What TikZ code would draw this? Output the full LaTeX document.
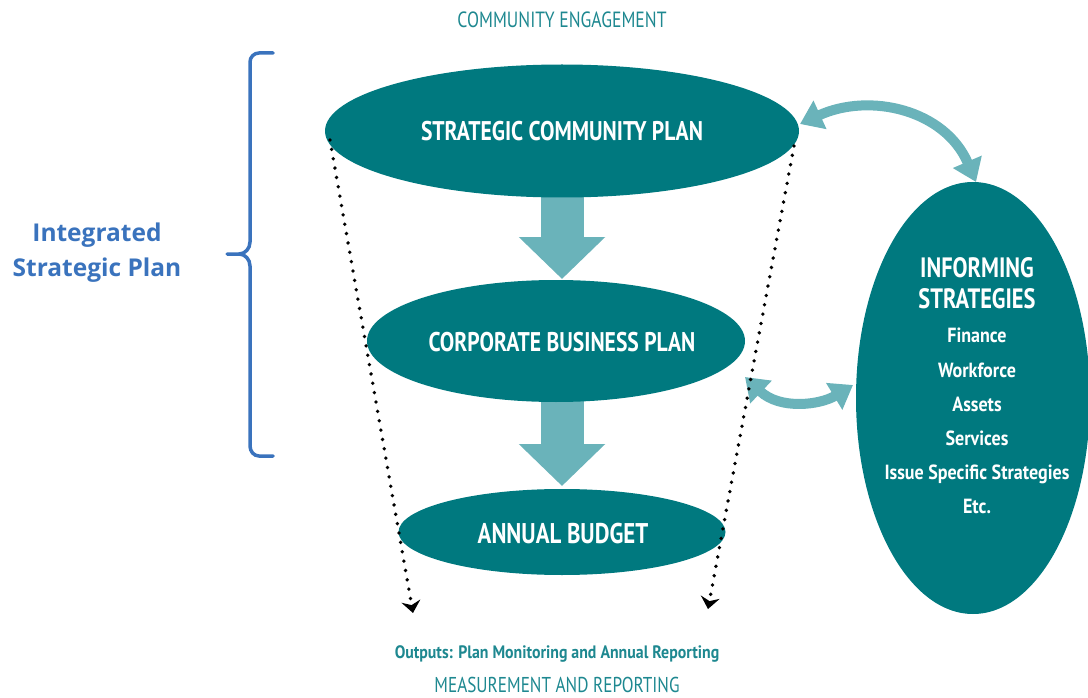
\documentclass[tikz,border=0pt]{standalone}
\usepackage{fontspec}
\usetikzlibrary{arrows.meta,shapes.geometric}
\newfontfamily\condfont{PT Sans}[FakeStretch=0.8]
\newfontfamily\condbold{PT Sans Bold}[FakeStretch=0.80]
\newfontfamily\itembold{PT Sans Bold}[FakeStretch=0.88]
\newfontfamily\calfont{Open Sans Bold}
\definecolor{teal1}{HTML}{00797F}
\definecolor{teal2}{HTML}{6AB3BA}
\definecolor{tealtext}{HTML}{1E8890}
\definecolor{bracecol}{HTML}{3A73BD}
\tikzset{
  oval/.style={ellipse, fill=teal1, text=white, inner sep=0pt},
  ovaltext/.style={text=white, font=\condbold\fontsize{27}{30}\selectfont},
  itemtext/.style={text=white, font=\itembold\fontsize{20.5}{22}\selectfont},
  blockarrow/.style={teal2, line width=43pt, -{Triangle[width=84pt,length=42pt]}},
  bendarrow/.style={teal2, line width=10pt, {Triangle[width=30pt,length=22pt]}-{Triangle[width=30pt,length=22pt]}},
  dotline/.style={line width=3.8pt, dash pattern=on 0pt off 9.5pt, line cap=round, -{Stealth[width=19pt,length=12pt,inset=4pt]}},
  caption/.style={text=tealtext, font=\condfont\fontsize{22}{24}\selectfont, anchor=base, inner sep=0pt},
}
\begin{document}
\begin{tikzpicture}[x=1pt,y=1pt]
\useasboundingbox (0,0) rectangle (1088,-698);
% block arrows (drawn first, under ovals)
\coordinate (a1s) at (562,-190);
\coordinate (a1e) at (562,-279);
\coordinate (a2s) at (562,-395);
\coordinate (a2e) at (562,-486);
\draw[blockarrow] (a1s) -- (a1e);
\draw[blockarrow] (a2s) -- (a2e);
% ovals
\node[oval, minimum width=474pt, minimum height=133pt] (scp) at (562,-131) {};
\node[oval, minimum width=378pt, minimum height=122pt] (cbp) at (556,-341) {};
\node[oval, minimum width=327pt, minimum height=86pt] (ab) at (562,-532) {};
\node[oval, minimum width=234pt, minimum height=432pt] (is) at (973,-398) {};
\node[ovaltext, anchor=base] (scpt) at (562,-141) {STRATEGIC COMMUNITY PLAN};
\node[ovaltext, anchor=base] (cbpt) at (562,-351) {CORPORATE BUSINESS PLAN};
\node[ovaltext, font=\condbold\fontsize{28.5}{30}\selectfont, anchor=base] (abt) at (563,-543) {ANNUAL BUDGET};
% informing strategies text
\node[ovaltext, font=\condbold\fontsize{28}{30}\selectfont, anchor=base] (ist1) at (977,-277) {INFORMING};
\node[ovaltext, font=\condbold\fontsize{28}{30}\selectfont, anchor=base] (ist2) at (977,-308) {STRATEGIES};
\node[itemtext, anchor=base] (i1) at (977,-342) {Finance};
\node[itemtext, anchor=base] (i2) at (977,-377) {Workforce};
\node[itemtext, anchor=base] (i3) at (977,-411) {Assets};
\node[itemtext, anchor=base] (i4) at (977,-445) {Services};
\node[itemtext, anchor=base] (i5) at (977,-479) {Issue Specific Strategies};
\node[itemtext, anchor=base] (i6) at (977,-513) {Etc.};
% curved double arrows
\coordinate (t1) at (800,-124);
\coordinate (t2) at (976,-182);
\draw[bendarrow] (t1) .. controls (870,-92) and (945,-110) .. (t2);
\coordinate (b1) at (745,-377);
\coordinate (b2) at (853,-385);
\draw[bendarrow] (b1) .. controls (780,-410) and (820,-405) .. (b2);
% dotted lines
\coordinate (dl1) at (330,-140);
\coordinate (dl2) at (413,-613);
\coordinate (dr1) at (794,-146);
\coordinate (dr2) at (708,-609);
\draw[dotline] (dl1) -- (dl2);
\draw[dotline] (dr1) -- (dr2);
% captions
\node[caption] (ce) at (562,-28) {COMMUNITY ENGAGEMENT};
\node[text=tealtext, font=\itembold\fontsize{18}{20}\selectfont, anchor=base] (out) at (557,-658) {Outputs: Plan Monitoring and Annual Reporting};
\node[caption, font=\condfont\fontsize{21.5}{23}\selectfont] (mr) at (557,-692) {MEASUREMENT AND REPORTING};
% brace
\draw[bracecol, line width=3.5pt, line cap=round, line join=round]
  (273,-53) -- (259,-53) to[out=180,in=90] (250,-62) -- (250,-242)
  to[out=-90,in=0] (239,-254) -- (227,-254);
\draw[bracecol, line width=3.5pt, line cap=round, line join=round]
  (239,-254) to[out=0,in=90] (250,-266) -- (250,-446)
  to[out=-90,in=180] (259,-456) -- (273,-456);
\node[text=bracecol, font=\calfont\fontsize{24.5}{35}\selectfont, align=center] (isp) at (97,-253) {Integrated\\Strategic Plan};
\end{tikzpicture}
\end{document}
